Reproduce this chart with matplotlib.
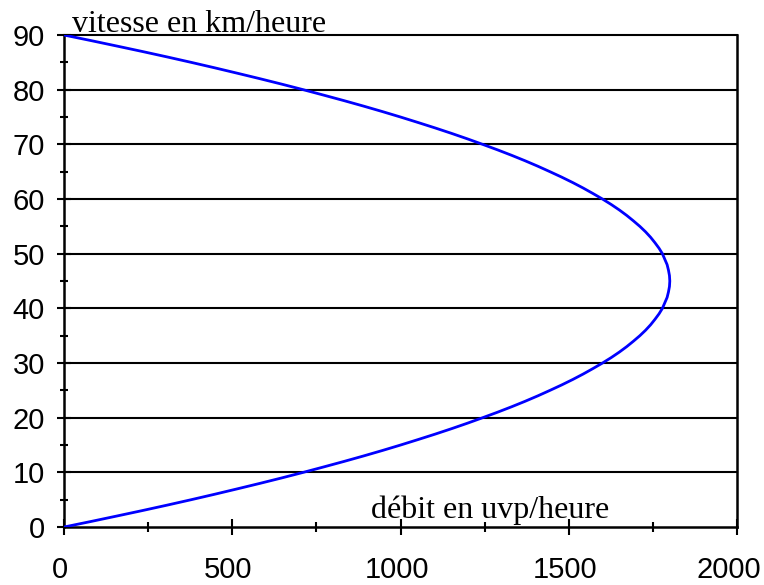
import matplotlib
matplotlib.use("Agg")
import matplotlib.pyplot as plt
from matplotlib.ticker import MultipleLocator, NullFormatter
from matplotlib.transforms import ScaledTranslation

# Speed (km/h) and corresponding flow (uvp/h) along the speed–flow curve
vitesse = list(range(0, 91))
debit = [0, 79, 156, 232, 306, 378, 448, 516, 583, 648,
         711, 772, 832, 890, 946, 1000, 1052, 1103, 1152, 1199,
         1244, 1288, 1330, 1370, 1408, 1444, 1479, 1512, 1543, 1572,
         1600, 1626, 1650, 1672, 1692, 1711, 1728, 1743, 1756, 1768,
         1778, 1785, 1792, 1796, 1799, 1800, 1799, 1796, 1792, 1785,
         1778, 1768, 1756, 1743, 1728, 1711, 1692, 1672, 1650, 1626,
         1600, 1572, 1543, 1512, 1479, 1444, 1408, 1370, 1330, 1288,
         1244, 1199, 1152, 1103, 1052, 1000, 946, 890, 832, 772,
         711, 648, 583, 516, 448, 378, 306, 232, 156, 79, 0]

y_grid = [10, 20, 30, 40, 50, 60, 70, 80, 90]
x_ticks = [0, 500, 1000, 1500, 2000]

fig = plt.figure(figsize=(7.64, 5.85), dpi=100)
ax = fig.add_axes([0.0838, 0.0991, 0.881, 0.841])

for g in y_grid:
    ax.axhline(g, color="black", lw=1.5, zorder=1, clip_on=False)

ax.plot(debit, vitesse, color="#0000ff", lw=2.0, zorder=3, solid_joinstyle="round")

ax.set_xlim(0, 2000)
ax.set_ylim(0, 90)
ax.xaxis.set_major_locator(MultipleLocator(500))
ax.xaxis.set_minor_locator(MultipleLocator(250))
ax.xaxis.set_major_formatter(NullFormatter())
ax.yaxis.set_major_locator(MultipleLocator(10))
ax.yaxis.set_minor_locator(MultipleLocator(5))

for s in ("left", "bottom", "right"):
    ax.spines[s].set_linewidth(1.8)
    ax.spines[s].set_color("black")
ax.spines["top"].set_visible(False)

ax.tick_params(which="both", direction="inout", width=1.5,
               colors="black", right=False, top=False)
ax.tick_params(axis="y", which="major", length=9.5, pad=9)
ax.tick_params(axis="y", which="minor", length=6)
ax.tick_params(axis="x", which="major", length=11.5)
ax.tick_params(axis="x", which="minor", length=7.5)

for lab in ax.get_yticklabels():
    lab.set_fontfamily("Liberation Sans")
    lab.set_fontsize(21)

# x tick labels, set slightly left of their ticks; the last one kept inside the figure
xtrans = ax.get_xaxis_transform()
for i, v in enumerate(x_ticks):
    dx = -8.5 if i == len(x_ticks) - 1 else -4
    off = ScaledTranslation(dx / 100, -51 / 100, fig.dpi_scale_trans)
    ax.text(v, 0, str(v), transform=xtrans + off, ha="center", va="baseline",
            fontfamily="Liberation Sans", fontsize=21, clip_on=False)

ax.text(0.012, 1.006, "vitesse en km/heure", transform=ax.transAxes,
        fontfamily="Liberation Serif", fontsize=23, ha="left", va="baseline")
ax.text(0.456, 0.018, "débit en uvp/heure", transform=ax.transAxes,
        fontfamily="Liberation Serif", fontsize=23, ha="left", va="baseline")

fig.savefig("out.png", dpi=100)
